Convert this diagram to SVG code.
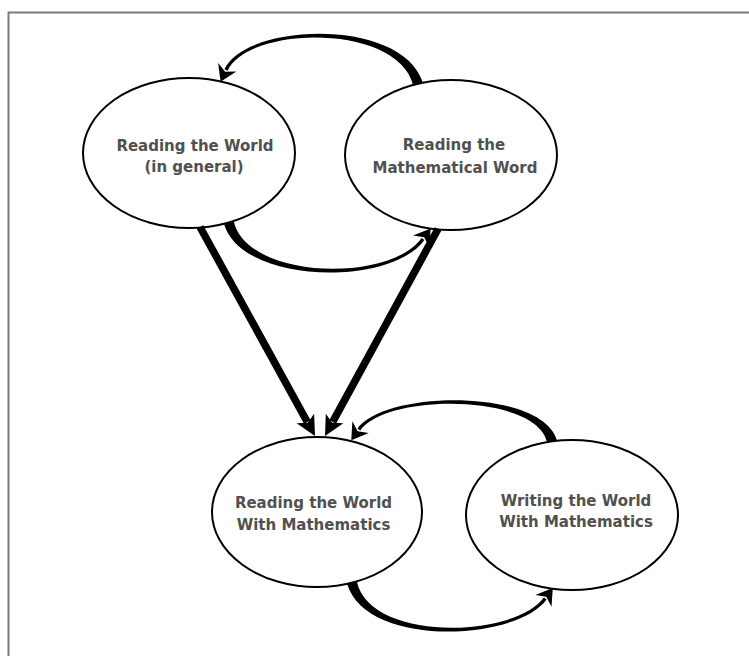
<svg xmlns="http://www.w3.org/2000/svg" width="749" height="656" viewBox="0 0 749 656">
<defs>
<style>
.node ellipse { fill:#fff; stroke:#000; stroke-width:2; }
.node text { font-family:"DejaVu Sans", Verdana, sans-serif; font-weight:bold; font-size:15px; fill:#505050; text-anchor:middle; }
.shaft { stroke:#000; stroke-width:7.5; fill:none; }
.taper, .head { fill:#000; }
.frame { fill:none; stroke:#7a7a7a; stroke-width:2; }
</style>
<path id="ahS" d="M0,0 L-20,-10 L-15,0 L-20,10 Z"/>
<path id="ahC" d="M0,0 L-16,-10 L-11,0 L-16,10 Z"/>
</defs>
<rect width="749" height="656" fill="#fff"/>
<path class="frame" d="M8.5,656 L8.5,12.5 L749,12.5"/>

<g id="node-reading-world-general" class="node">
<ellipse cx="189" cy="153" rx="106" ry="75"/>
<text x="195" y="151">Reading the World</text>
<text x="194" y="172">(in general)</text>
</g>
<g id="node-reading-math-word" class="node">
<ellipse cx="451" cy="155" rx="106" ry="75"/>
<text x="454" y="150">Reading the</text>
<text x="455" y="172.5">Mathematical Word</text>
</g>
<g id="node-reading-world-math" class="node">
<ellipse cx="317" cy="512" rx="105" ry="75"/>
<text x="313.5" y="508">Reading the World</text>
<text x="313.5" y="530">With Mathematics</text>
</g>
<g id="node-writing-world-math" class="node">
<ellipse cx="572" cy="515" rx="106" ry="75"/>
<text x="576" y="506">Writing the World</text>
<text x="576" y="527">With Mathematics</text>
</g>

<g id="connectors">
<!-- top pair: Mathematical Word -> World (upper arc) -->
<path class="taper" d="M422.8,82.6 C402.1,17.2 246,22.5 224.4,69.3 L227.6,70.7 C248,25.5 397.9,22.8 413.2,85.4 Z"/>
<use href="#ahC" class="head" transform="translate(220.6,81.8) rotate(114.5)"/>
<!-- top pair: World -> Mathematical Word (lower arc) -->
<path class="taper" d="M224.2,224.4 C242.8,284.8 390.8,286.6 424.4,240 L421.6,238 C389.2,283.4 247.2,279.2 233.8,221.6 Z"/>
<use href="#ahC" class="head" transform="translate(430.6,228.4) rotate(-54.4)"/>
<!-- straight arrows down -->
<line class="shaft" x1="200" y1="227" x2="307.3" y2="422"/>
<use href="#ahS" class="head" transform="translate(315,436) rotate(61.18)"/>
<line class="shaft" x1="438" y1="229" x2="332.7" y2="421.9"/>
<use href="#ahS" class="head" transform="translate(325,436) rotate(118.62)"/>
<!-- bottom pair: Writing -> Reading (upper arc) -->
<path class="taper" d="M556.9,440.3 C542.2,388.3 385.2,389.4 357.4,428.6 L360.2,430.6 C386.8,392.6 537.8,393.7 547.1,442.7 Z"/>
<use href="#ahC" class="head" transform="translate(351.3,440.2) rotate(125.2)"/>
<!-- bottom pair: Reading -> Writing (lower arc) -->
<path class="taper" d="M347.2,583.9 C365.9,647.8 515.8,641.5 546.6,599.4 L543.8,597.4 C514.2,638.5 370.1,642.2 356.8,581.5 Z"/>
<use href="#ahC" class="head" transform="translate(552.8,587.9) rotate(-54)"/>
</g>
</svg>
